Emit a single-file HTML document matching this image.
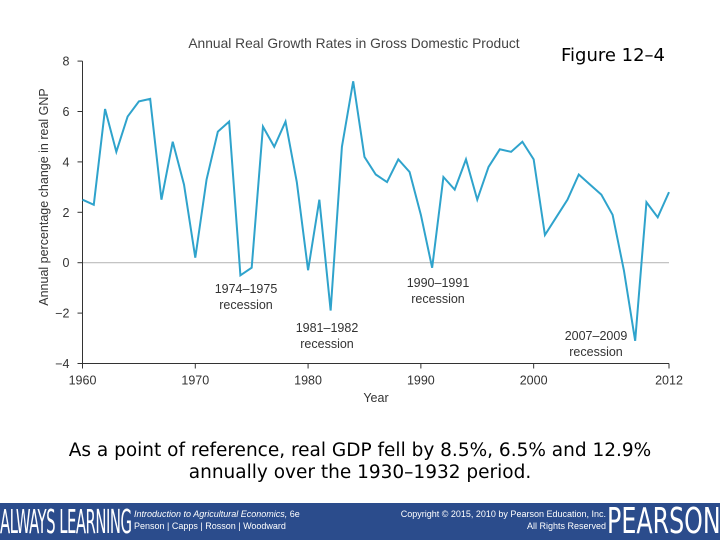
<!DOCTYPE html>
<html><head><meta charset="utf-8"><style>
body{margin:0;width:720px;height:540px;background:#fff;overflow:hidden;position:relative;font-family:"Liberation Sans",sans-serif}
.t{position:absolute;color:#000}
</style></head><body>
<svg id="chart" width="720" height="540" style="position:absolute;left:0;top:0" font-family="Liberation Sans, sans-serif">
<text x="354" y="48" font-size="13.8" fill="#444" text-anchor="middle">Annual Real Growth Rates in Gross Domestic Product</text>
<text x="613" y="61" font-size="18" fill="#000" text-anchor="middle" font-family="DejaVu Sans, sans-serif">Figure 12–4</text>
<g id="axes"></g>
<g id="series"></g>
<text x="376" y="402" font-size="12.5" fill="#333" text-anchor="middle">Year</text>
<text transform="translate(48,197) rotate(-90)" font-size="12.5" fill="#333" text-anchor="middle">Annual percentage change in real GNP</text>
<g font-size="12.5" fill="#333" text-anchor="middle">
<text x="246" y="293">1974–1975</text><text x="246" y="309">recession</text>
<text x="327" y="332">1981–1982</text><text x="327" y="348">recession</text>
<text x="438" y="287">1990–1991</text><text x="438" y="303">recession</text>
<text x="596" y="340">2007–2009</text><text x="596" y="356">recession</text>
</g>
</svg>
<div class="t" style="left:0;width:720px;top:440px;text-align:center;font-family:'DejaVu Sans',sans-serif;font-size:18.5px;line-height:22px">As a point of reference, real GDP fell by 8.5%, 6.5% and 12.9%<br>annually over the 1930–1932 period.</div>
<div style="position:absolute;left:0;top:503px;width:720px;height:37px;background:#2b4c8c;color:#fff;overflow:hidden">
<div style="position:absolute;left:0;top:1px;font-size:33px;line-height:35px;transform:scaleX(0.5);transform-origin:left;letter-spacing:-1px;white-space:nowrap;font-family:'DejaVu Sans Condensed','Liberation Sans Narrow',sans-serif">ALWAYS LEARNING</div>
<div style="position:absolute;left:134px;top:5px;font-size:9px;line-height:12px"><i>Introduction to Agricultural Economics,</i> 6e<br>Penson | Capps | Rosson | Woodward</div>
<div style="position:absolute;left:360px;width:246px;top:5px;font-size:9px;line-height:12px;text-align:right">Copyright © 2015, 2010 by Pearson Education, Inc.<br>All Rights Reserved</div>
<div style="position:absolute;left:607px;top:0px;font-size:36px;line-height:37px;transform:scaleX(0.66);transform-origin:left;white-space:nowrap;font-family:'DejaVu Sans','Liberation Sans',sans-serif">PEARSON</div>
</div>
<script>
const years=[1960,1961,1962,1963,1964,1965,1966,1967,1968,1969,1970,1971,1972,1973,1974,1975,1976,1977,1978,1979,1980,1981,1982,1983,1984,1985,1986,1987,1988,1989,1990,1991,1992,1993,1994,1995,1996,1997,1998,1999,2000,2001,2002,2003,2004,2005,2006,2007,2008,2009,2010,2011,2012];
const growth=[2.5,2.3,6.1,4.4,5.8,6.4,6.5,2.5,4.8,3.1,0.2,3.3,5.2,5.6,-0.5,-0.2,5.4,4.6,5.6,3.2,-0.3,2.5,-1.9,4.6,7.2,4.2,3.5,3.2,4.1,3.6,1.9,-0.2,3.4,2.9,4.1,2.5,3.8,4.5,4.4,4.8,4.1,1.1,1.8,2.5,3.5,3.1,2.7,1.9,-0.3,-3.1,2.4,1.8,2.8];
const xTicks=[1960,1970,1980,1990,2000,2012];
const yTicks=[-4,-2,0,2,4,6,8];
const NS="http://www.w3.org/2000/svg";
const x=v=>82.5+(v-1960)*(669-82.5)/52;
const y=v=>262.7-v*25.2;
function mk(tag,attrs,parent){const e=document.createElementNS(NS,tag);for(const k in attrs)e.setAttribute(k,attrs[k]);parent.appendChild(e);return e;}
const ax=document.getElementById('axes');
let l=mk('line',{x1:x(1960),x2:x(2012),y1:y(0),y2:y(0),stroke:'#bbb','stroke-width':1.2},ax);


l=mk('line',{x1:x(1960),x2:x(1960),y1:y(8),y2:y(-4),stroke:'#333','stroke-width':1},ax);


l=mk('line',{x1:x(1960),x2:x(2012),y1:y(-4),y2:y(-4),stroke:'#333','stroke-width':1},ax);


yTicks.forEach(v=>{mk('line',{x1:x(1960)-5,x2:x(1960),y1:y(v),y2:y(v),stroke:'#333'},ax);
const t=mk('text',{x:x(1960)-13,y:y(v)+4.5,'font-size':12.5,fill:'#333','text-anchor':'end'},ax);t.textContent=v<0?'−'+(-v):v;

});
xTicks.forEach(v=>{mk('line',{x1:x(v),x2:x(v),y1:y(-4),y2:y(-4)+5,stroke:'#333'},ax);
const t=mk('text',{x:x(v),y:y(-4)+21,'font-size':12.5,fill:'#333','text-anchor':'middle'},ax);t.textContent=v;

});
const p=mk('polyline',{points:years.map((yr,i)=>x(yr)+','+y(growth[i])).join(' '),fill:'none',stroke:'#2fa3cc','stroke-width':2,'stroke-linejoin':'miter'},document.getElementById('series'));


</script>
</body></html>
